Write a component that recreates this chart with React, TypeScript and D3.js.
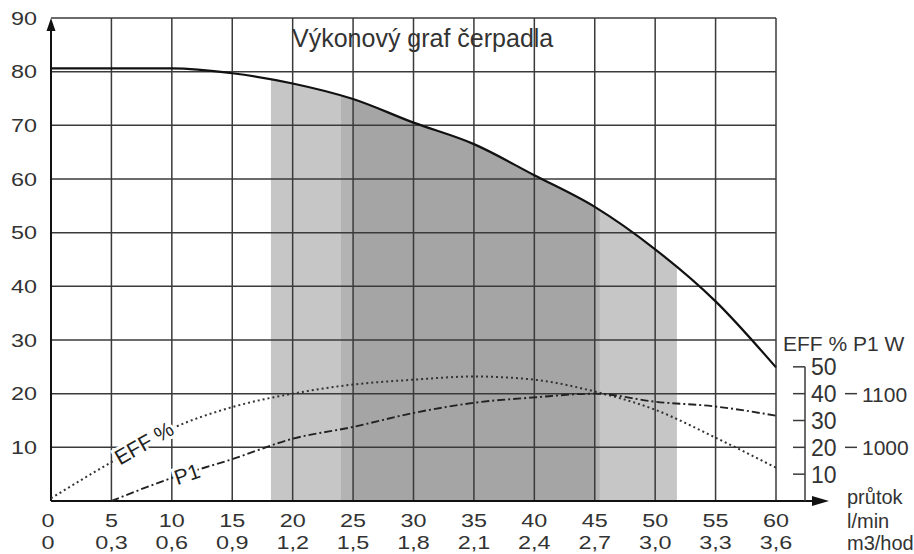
import * as d3 from "d3";

// flow axis (l/min) and the matching m3/hod labels
const flowLmin = [0, 5, 10, 15, 20, 25, 30, 35, 40, 45, 50, 55, 60];
const flowM3h = ["0", "0,3", "0,6", "0,9", "1,2", "1,5", "1,8", "2,1", "2,4", "2,7", "3,0", "3,3", "3,6"];

// head (left axis)
const headTicks = [10, 20, 30, 40, 50, 60, 70, 80, 90];
const headValues = [80.6, 80.6, 80.6, 79.7, 77.8, 74.9, 70.5, 66.5, 60.7, 54.8, 46.9, 37.2, 24.9];

// efficiency %
const effTicks = [10, 20, 30, 40, 50];
const effValues = [1, 14.5, 27, 35, 40, 43.4, 45.2, 46.4, 45.2, 40.8, 34, 23.6, 12.4];

// input power P1 W
const p1Flow = [5, 10, 15, 20, 25, 30, 35, 40, 45, 50, 55, 60];
const p1Watts = [900, 943, 978, 1016, 1038, 1064, 1083, 1093, 1100, 1085, 1076, 1059];
const p1Ticks = [1000, 1100];

// recommended working ranges (shaded)
const bandFrom = [18.2, 24, 25];
const bandTo = [51.8, 45.4, 45];

const W = 914;
const H = 554;

export default function App() {
  const x = d3.scaleLinear().domain([0, 60]).range([51, 776]);
  const y = d3.scaleLinear().domain([0, 90]).range([501, 18]);
  const eff = d3.scaleLinear().domain([0, 50]).range([y(0), y(25)]);
  const p1 = d3.scaleLinear().domain([900, 1100]).range([y(0), y(20)]);

  const headPts: [number, number][] = flowLmin.map((f, i) => [f, headValues[i]]);
  const headLine = d3.line<[number, number]>()
    .x(d => x(d[0])).y(d => y(d[1]))
    .curve(d3.curveMonotoneX);
  const headArea = d3.area<[number, number]>()
    .x(d => x(d[0])).y0(y(0)).y1(d => y(d[1]))
    .curve(d3.curveMonotoneX);

  const effLine = d3.line<number>()
    .x((_, i) => x(flowLmin[i])).y(d => eff(d))
    .curve(d3.curveMonotoneX);
  const p1Line = d3.line<number>()
    .x((_, i) => x(p1Flow[i])).y(d => p1(d))
    .curve(d3.curveMonotoneX);

  const bandColors = ["#c6c6c6", "#b3b3b3", "#a5a5a5"];
  const grid = "#3a3a3a";
  const txt = "#333";
  const tickFont = "Liberation Sans, Arial, sans-serif";

  return (
    <svg width={W} height={H} style={{ position: "absolute", left: 0, top: 0, background: "#fff" }}>
      <defs>
        <clipPath id="underHead">
          <path d={headArea(headPts) || ""} />
        </clipPath>
      </defs>

      {/* shaded ranges under the head curve */}
      <g clipPath="url(#underHead)">
        {bandFrom.map((b, i) => (
          <rect key={i} x={x(b)} y={y(90)} width={x(bandTo[i]) - x(b)} height={y(0) - y(90)} fill={bandColors[i]} />
        ))}
      </g>

      {/* grid */}
      {flowLmin.slice(1).map(f => (
        <line key={"v" + f} x1={x(f)} x2={x(f)} y1={y(0)} y2={y(90)} stroke={grid} strokeWidth={1.5} />
      ))}
      {headTicks.map(t => (
        <line key={"h" + t} x1={x(0)} x2={x(60)} y1={y(t)} y2={y(t)} stroke={grid} strokeWidth={1.5} />
      ))}

      {/* axes with arrows */}
      <line x1={x(0)} x2={x(0)} y1={y(0)} y2={y(90) + 10} stroke="#111" strokeWidth={2} />
      <path d={`M${x(0)},${y(90)} L${x(0) - 4.5},${y(90) + 13} L${x(0) + 4.5},${y(90) + 13} Z`} fill="#111" />
      <line x1={x(0)} x2={814} y1={y(0)} y2={y(0)} stroke="#111" strokeWidth={2} />
      <path d={`M829,${y(0)} L812,${y(0) - 5} L812,${y(0) + 5} Z`} fill="#111" />

      {/* curves */}
      <path d={headLine(headPts) || ""} fill="none" stroke="#111" strokeWidth={2.2} />
      <path d={effLine(effValues) || ""} fill="none" stroke="#333" strokeWidth={2} strokeDasharray="2,3" />
      <path d={p1Line(p1Watts) || ""} fill="none" stroke="#222" strokeWidth={1.9} strokeDasharray="8,3,2,3" />

      {/* curve labels */}
      <text x={144} y={443} transform="rotate(-30,144,443)" textAnchor="middle" dominantBaseline="central"
        fontFamily={tickFont} fontSize={21} fill="#222" stroke="#fff" strokeWidth={6} paintOrder="stroke">EFF %</text>
      <text x={187} y={474} transform="rotate(-19,187,474)" textAnchor="middle" dominantBaseline="central"
        fontFamily={tickFont} fontSize={21} fill="#222" stroke="#fff" strokeWidth={6} paintOrder="stroke">P1</text>

      {/* title */}
      <text x={292} y={47} fontFamily={tickFont} fontSize={25} fill={txt}>Výkonový graf čerpadla</text>

      {/* left axis labels */}
      {headTicks.map(t => (
        <text key={"yl" + t} transform={`translate(37,${y(t) + 6.5}) scale(1.3,1)`} textAnchor="end"
          fontFamily={tickFont} fontSize={18} fill={txt}>{t}</text>
      ))}

      {/* bottom labels */}
      {flowLmin.map((f, i) => (
        <g key={"xl" + f}>
          <text transform={`translate(${x(f) - (f === 0 ? 3 : 0)},527) scale(1.3,1)`} textAnchor="middle"
            fontFamily={tickFont} fontSize={18} fill={txt}>{f}</text>
          <text transform={`translate(${x(f) - (f === 0 ? 3 : 0)},549) scale(1.3,1)`} textAnchor="middle"
            fontFamily={tickFont} fontSize={18} fill={txt}>{flowM3h[i]}</text>
        </g>
      ))}

      {/* right axis: EFF % and P1 W */}
      <line x1={805} x2={805} y1={eff(50)} y2={y(0)} stroke={grid} strokeWidth={1.5} />
      {effTicks.map(t => (
        <g key={"e" + t}>
          <line x1={793} x2={805} y1={eff(t)} y2={eff(t)} stroke={grid} strokeWidth={1.5} />
          <text x={811} y={eff(t) + 8.5} fontFamily={tickFont} fontSize={23} fill={txt}>{t}</text>
        </g>
      ))}
      {p1Ticks.map(t => (
        <g key={"p" + t}>
          <line x1={845} x2={857} y1={p1(t)} y2={p1(t)} stroke={grid} strokeWidth={1.5} />
          <text x={862} y={p1(t) + 8} fontFamily={tickFont} fontSize={21} fill={txt}>{t}</text>
        </g>
      ))}
      <text x={783} y={351} fontFamily={tickFont} fontSize={21} fill={txt}>EFF %  P1 W</text>

      {/* flow unit labels */}
      <text x={847} y={504} fontFamily={tickFont} fontSize={20} fill={txt}>průtok</text>
      <text x={847} y={528} fontFamily={tickFont} fontSize={20} fill={txt}>l/min</text>
      <text x={847} y={550} fontFamily={tickFont} fontSize={20} fill={txt}>m3/hod</text>
    </svg>
  );
}
